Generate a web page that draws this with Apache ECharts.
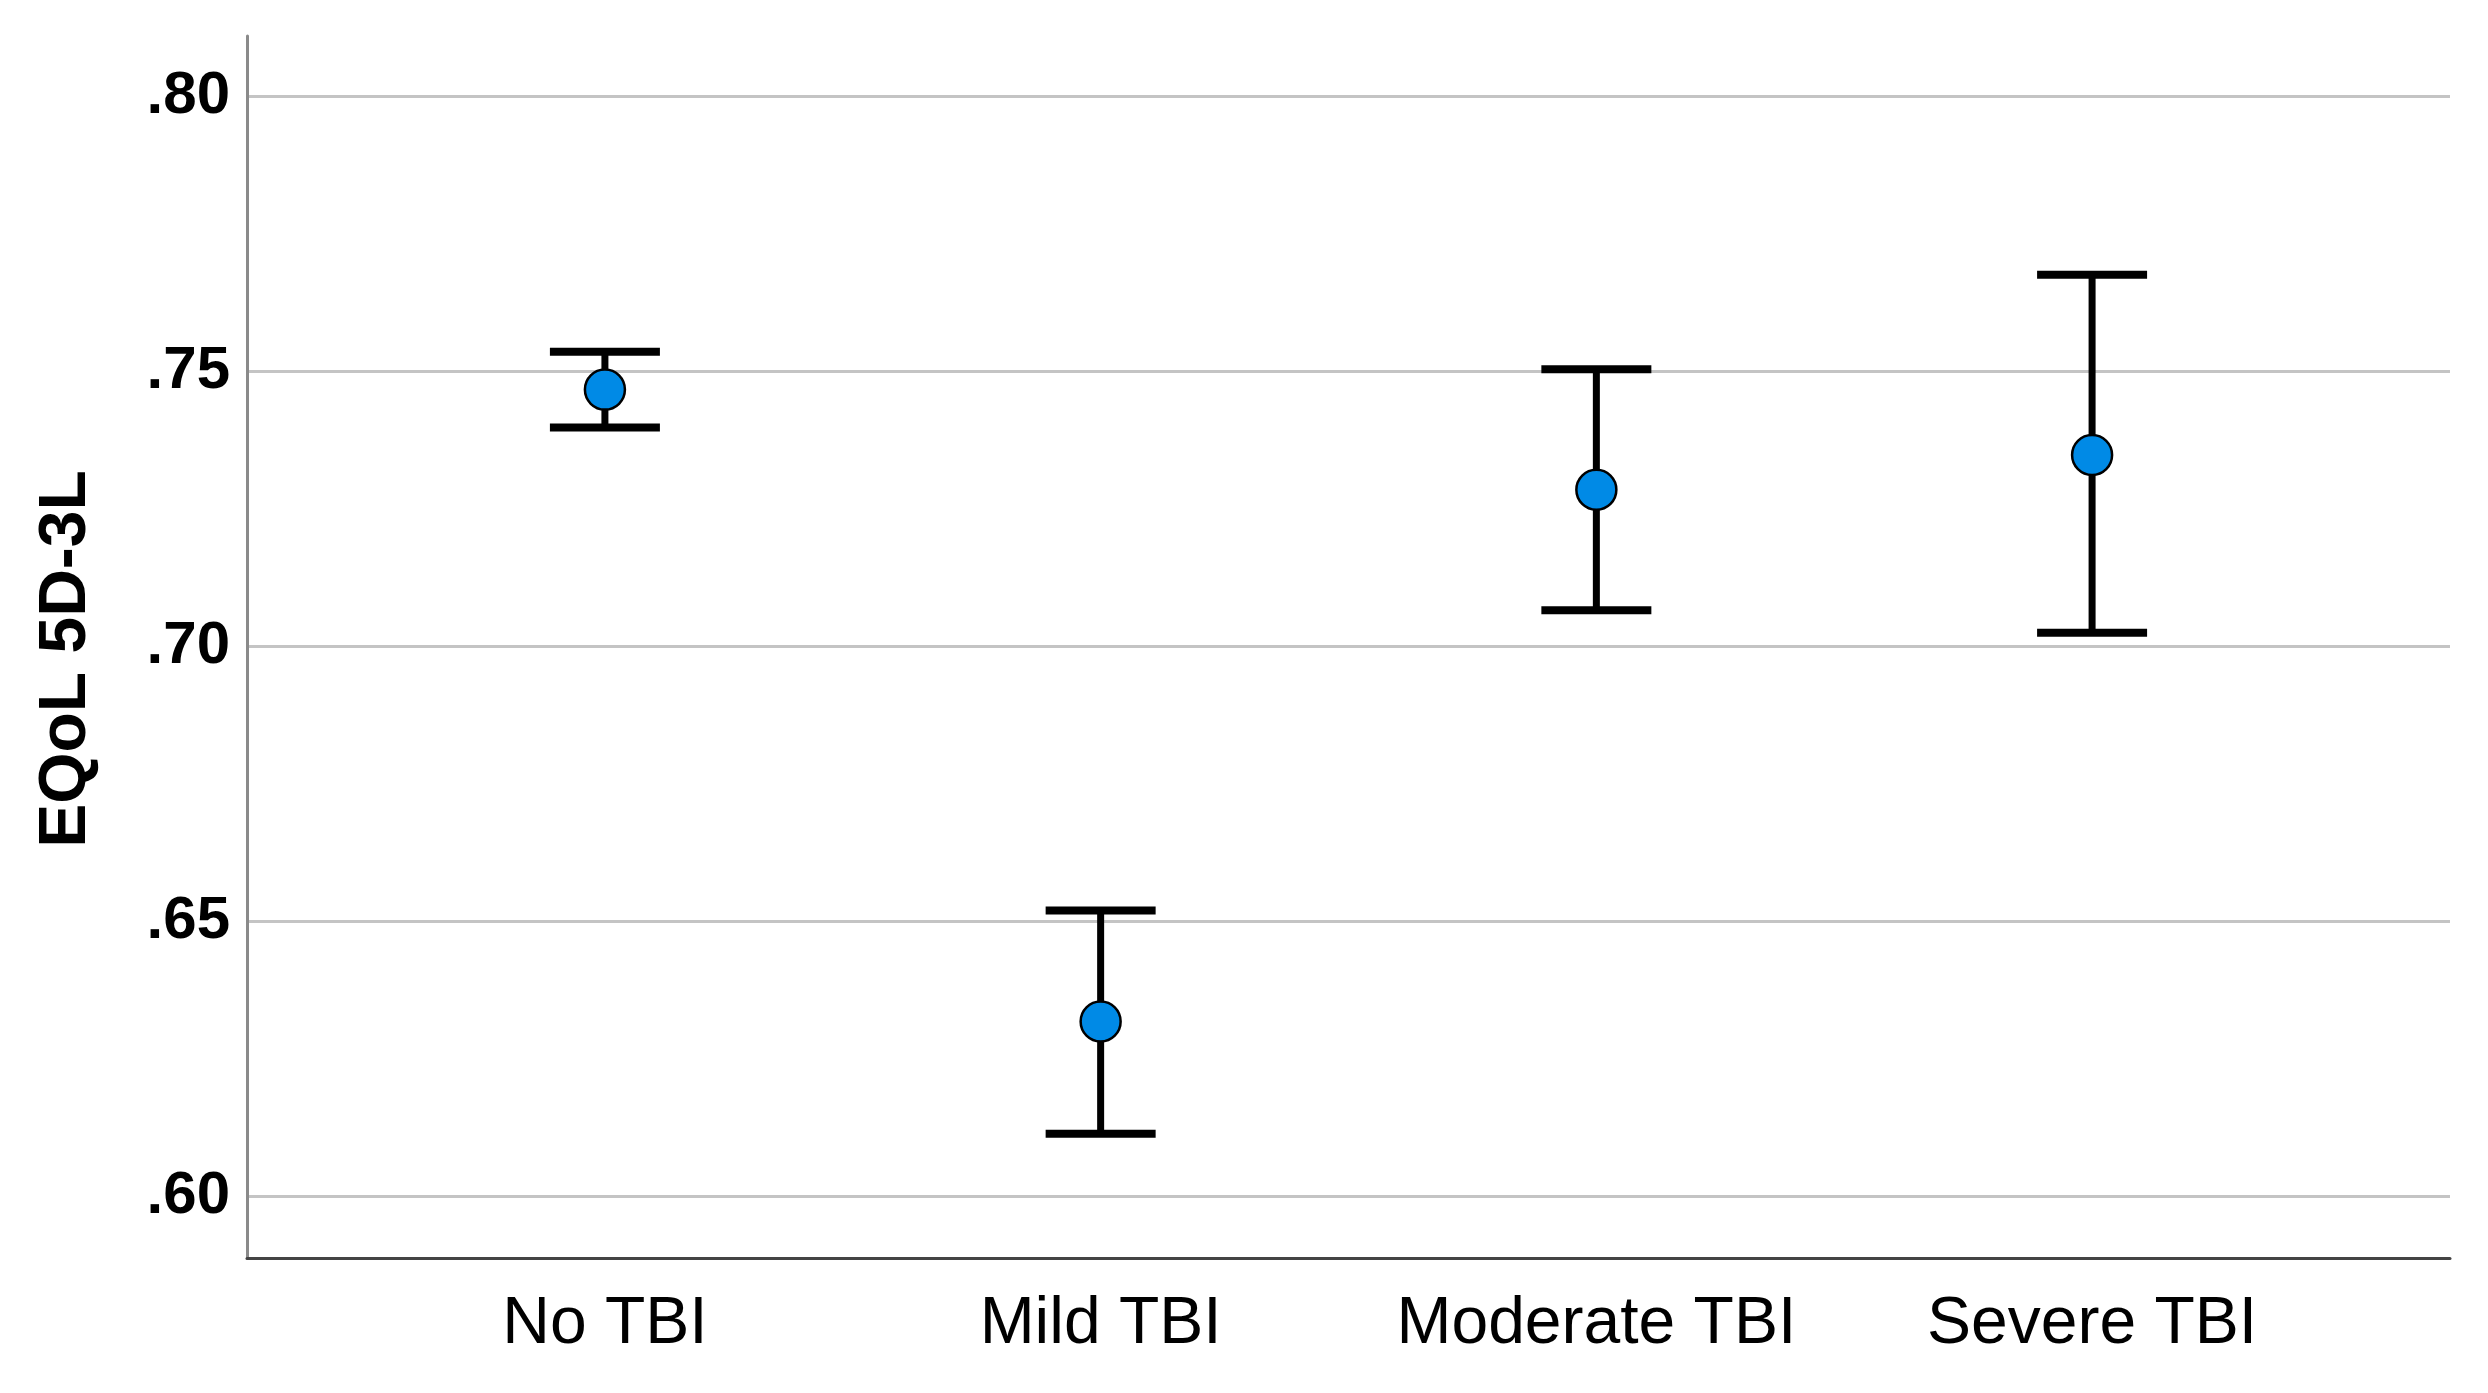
<!DOCTYPE html>
<html>
<head>
<meta charset="utf-8">
<script src="https://cdn.jsdelivr.net/npm/echarts@6/dist/echarts.min.js"></script>
<style>html,body{margin:0;padding:0;background:#fff;}#c{width:2488px;height:1393px;}</style>
</head>
<body>
<div id="c"></div>
<script>
var categories = ['No TBI', 'Mild TBI', 'Moderate TBI', 'Severe TBI'];
var means = [0.7467, 0.6318, 0.7285, 0.7348];
var lower = [0.7398, 0.6114, 0.7066, 0.7025];
var upper = [0.7536, 0.6520, 0.7504, 0.7676];
var yTicks = [0.60, 0.65, 0.70, 0.75, 0.80];
var yTitle = 'EQoL 5D-3L';

var chart = echarts.init(document.getElementById('c'));
var errData = categories.map(function (c, i) { return [i, lower[i], upper[i]]; });
var ptData = categories.map(function (c, i) { return [i, means[i]]; });

chart.setOption({
  animation: false,
  backgroundColor: '#ffffff',
  grid: { left: 247, right: 38, top: 36, bottom: 135, containLabel: false },
  xAxis: {
    type: 'value', min: -0.722, max: 3.722,
    axisLine: { show: true, onZero: false, lineStyle: { color: '#444444', width: 3 } },
    axisTick: { show: false, customValues: [0, 1, 2, 3] },
    splitLine: { show: false },
    axisLabel: {
      customValues: [0, 1, 2, 3],
      formatter: function (v) { return categories[Math.round(v)] || ''; },
      fontFamily: 'Liberation Sans, Arial, sans-serif', fontSize: 66, color: '#000', margin: 34
    }
  },
  yAxis: {
    type: 'value', min: 0.5888, max: 0.811,
    name: yTitle, nameLocation: 'middle', nameGap: 147,
    nameTextStyle: { fontFamily: 'Liberation Sans, Arial, sans-serif', fontSize: 66, fontWeight: 'bold', color: '#000', padding: [0, 24, 0, 0] },
    axisLine: { show: true, onZero: false, lineStyle: { color: '#8a8a8a', width: 3 } },
    axisTick: { show: false, customValues: yTicks },
    axisLabel: {
      customValues: yTicks,
      formatter: function (v) { return v.toFixed(2).replace(/^0/, ''); },
      fontFamily: 'Liberation Sans, Arial, sans-serif', fontSize: 60, fontWeight: 'bold', color: '#000', margin: 17
    },
    splitLine: { show: true, lineStyle: { color: '#c4c4c4', width: 3 } }
  },
  series: [
    {
      type: 'custom',
      data: errData,
      z: 2,
      renderItem: function (params, api) {
        var x = api.value(0);
        var lo = api.coord([x, api.value(1)]);
        var hi = api.coord([x, api.value(2)]);
        var hw = 55;
        return {
          type: 'group',
          children: [
            { type: 'line', shape: { x1: lo[0], y1: lo[1], x2: hi[0], y2: hi[1] }, style: { stroke: '#000', lineWidth: 7 } },
            { type: 'line', shape: { x1: lo[0] - hw, y1: lo[1], x2: lo[0] + hw, y2: lo[1] }, style: { stroke: '#000', lineWidth: 8 } },
            { type: 'line', shape: { x1: hi[0] - hw, y1: hi[1], x2: hi[0] + hw, y2: hi[1] }, style: { stroke: '#000', lineWidth: 8 } }
          ]
        };
      }
    },
    {
      type: 'scatter',
      data: ptData,
      z: 3,
      symbol: 'circle',
      symbolSize: 40,
      itemStyle: { color: '#008ae6', borderColor: '#000', borderWidth: 2.5, opacity: 1 }
    }
  ]
});
</script>
</body>
</html>
